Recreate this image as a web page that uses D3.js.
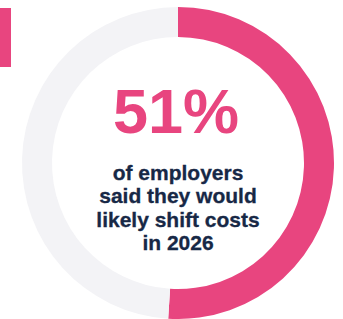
<!DOCTYPE html>
<html>
<head>
<meta charset="utf-8">
<script src="https://cdn.jsdelivr.net/npm/d3@7"></script>
<style>
  html, body { margin: 0; padding: 0; background: #fff; }
  svg { display: block; }
</style>
</head>
<body>
<script>
// Data
const shares = [51, 49];
const shareNames = ['shift costs', 'other'];
const bigLabel = ['51%'];
const captionLines = ['of employers', 'said they would', 'likely shift costs', 'in 2026'];

const width = 343;
const height = 319;
const pink = '#e8457f';
const grey = '#f3f3f6';
const navy = '#172846';

const cx = 178, cy = 163;
const outerR = 156, innerR = 126;

let svg = d3.select('body')
    .append('svg')
    .attr('width', width)
    .attr('height', height);

// bit of the neighbouring panel at top-left
svg.append('rect')
    .attr('x', 0)
    .attr('y', 8)
    .attr('width', 11)
    .attr('height', 59)
    .style('fill', pink);

let pie = d3.pie().sort(null).value(d => d);
let arc = d3.arc().innerRadius(innerR).outerRadius(outerR);
let colors = d3.scaleOrdinal().domain(shareNames).range([pink, grey]);

let ring = svg.append('g')
    .attr('transform', `translate(${cx},${cy})`);

ring.selectAll('path')
    .data(pie(shares))
    .enter()
    .append('path')
    .attr('d', arc)
    .style('fill', (d, i) => colors(shareNames[i]));

ring.append('text')
    .attr('x', -2)
    .attr('y', -30)
    .attr('text-anchor', 'middle')
    .style('font', 'bold 63px "Liberation Sans", Arial, sans-serif')
    .style('fill', pink)
    .text(bigLabel[0]);

ring.selectAll('.cap')
    .data(captionLines)
    .enter()
    .append('text')
    .classed('cap', true)
    .attr('x', 0)
    .attr('y', (d, i) => 17 + i * 23.3)
    .attr('text-anchor', 'middle')
    .style('font', 'bold 21px "Liberation Sans", Arial, sans-serif')
    .style('fill', navy)
    .style('stroke', navy)
    .style('stroke-width', 0.3)
    .text(d => d);
</script>
</body>
</html>
